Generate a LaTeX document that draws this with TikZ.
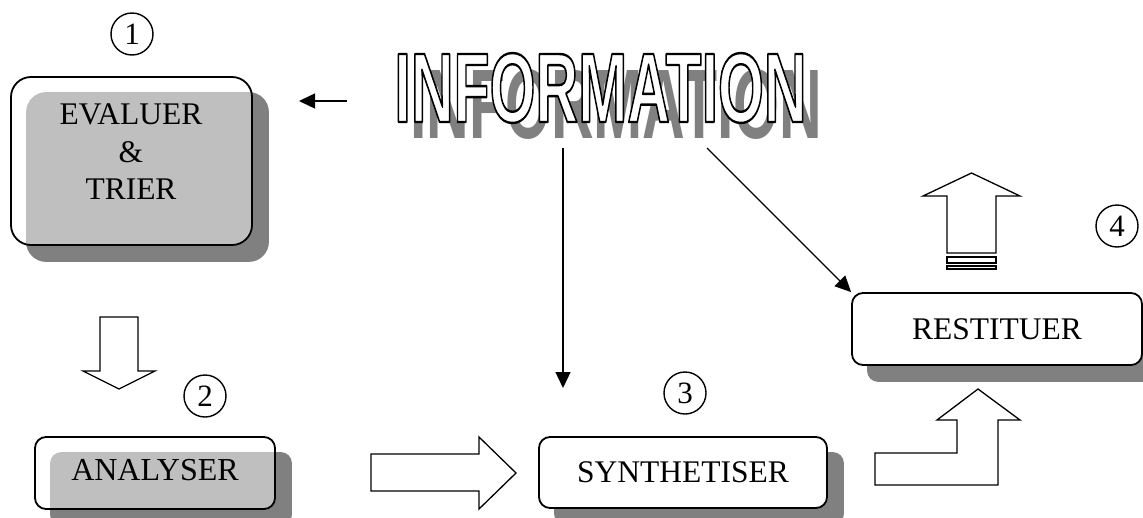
\documentclass[tikz,border=0pt]{standalone}
\usepackage{fontspec}
\setmainfont{Liberation Serif}
\newfontfamily\infofont{Liberation Sans}
\usetikzlibrary{arrows.meta,backgrounds}
\definecolor{shgray}{HTML}{808080}
% the big title word, condensed to its box
\newcommand\infoword{\resizebox{412pt}{69pt}{\infofont\bfseries\fontsize{94}{94}\selectfont INFORMATION}}
% white letters with a black stroked outline (text render mode 2)
\newcommand\outlineword{\resizebox{412pt}{69pt}{\infofont\bfseries\fontsize{94}{94}\selectfont
  \special{pdf:literal direct 2 Tr 0 G 2.3 w 1 j}INFORMATION\special{pdf:literal direct 0 Tr}}}

\begin{document}
\begin{tikzpicture}[x=1pt,y=-1pt,
  box/.style={draw, line width=1.8pt, rounded corners=#1, inner sep=0pt,
              font=\fontsize{31.5}{37.5}\selectfont},
  box/.default=11pt,
  stepnum/.style={draw, circle, line width=1.4pt, minimum size=42pt, inner sep=0pt,
                  font=\fontsize{31}{31}\selectfont},
  blockarrow/.style={draw, fill=white, line width=1.3pt, line join=miter},
  conn/.style={line width=1.3pt, -{Triangle[length=16pt,width=15pt]}}]
\useasboundingbox (0,0) rectangle (1143,517);

% process boxes
\node[box=20pt, minimum width=241pt, minimum height=168pt,
      fill=white, fill opacity=0.5] (evaluer) at (131.5,161) {};
\node[font=\fontsize{31.5}{37.5}\selectfont, align=center, inner sep=0pt]
      (evaluertext) at (131,152) {EVALUER\\\&\\TRIER};
\node[box, minimum width=240pt, minimum height=72pt,
      fill=white, fill opacity=0.5, text opacity=1] (analyser) at (155,473) {};
\node[font=\fontsize{32}{32}\selectfont, inner sep=0pt] (analysertext) at (155,470) {ANALYSER};
\node[box, minimum width=288pt, minimum height=71pt, fill=white] (synth) at (683,472.5) {SYNTHETISER};
\node[box, minimum width=290pt, minimum height=72pt, fill=white] (restit) at (997,329) {RESTITUER};

% drop shadows behind the boxes
\begin{scope}[on background layer]
  \fill[shgray, rounded corners=20pt] ([shift={(16,16)}]evaluer.north west) rectangle ([shift={(16,16)}]evaluer.south east);
  \foreach \n in {analyser, synth, restit}
    \fill[shgray, rounded corners=11pt] ([shift={(16,16)}]\n.north west) rectangle ([shift={(16,16)}]\n.south east);
\end{scope}

% step numbers
\node[stepnum] (n1) at (132,34) {1};
\node[stepnum] (n2) at (205,396) {2};
\node[stepnum] (n3) at (685,393) {3};
\node[stepnum] (n4) at (1117,226) {4};

% title word with its shadow
\node[text=shgray, inner sep=0pt] (infoshadow) at (616,104) {\infoword};
\node[text=white, inner sep=0pt] (info) at (600.5,88) {\outlineword};

% thin connectors
\coordinate (infoleft) at (347,101);
\coordinate (evaluerin) at (299,101);
\coordinate (infodown) at (563,148);
\coordinate (synthin) at (563,388);
\coordinate (infodiag) at (707,148);
\draw[conn] (infoleft) -- (evaluerin);
\draw[conn] (infodown) -- (synthin);
\draw[conn] (infodiag) -- (restit.north west);

% block arrows
\draw[blockarrow] (100,317) -- (138,317) -- (138,371) -- (155,371) -- (119,389)
  -- (83,371) -- (100,371) -- cycle;
\draw[blockarrow] (371,454) -- (479,454) -- (479,437) -- (516,473) -- (479,509)
  -- (479,491) -- (371,491) -- cycle;
\draw[blockarrow] (978,389) -- (1020,420) -- (998,420) -- (998,485) -- (875,485)
  -- (875,453) -- (957,453) -- (957,420) -- (937,420) -- cycle;
\draw[blockarrow] (971.5,173) -- (1020,196) -- (996,196) -- (996,253) -- (947,253)
  -- (947,196) -- (923,196) -- cycle;
\draw[blockarrow, line width=1.1pt] (947,257) rectangle (996,263);
\draw[blockarrow, line width=1.1pt] (947,266) rectangle (996,269);
\end{tikzpicture}
\end{document}
